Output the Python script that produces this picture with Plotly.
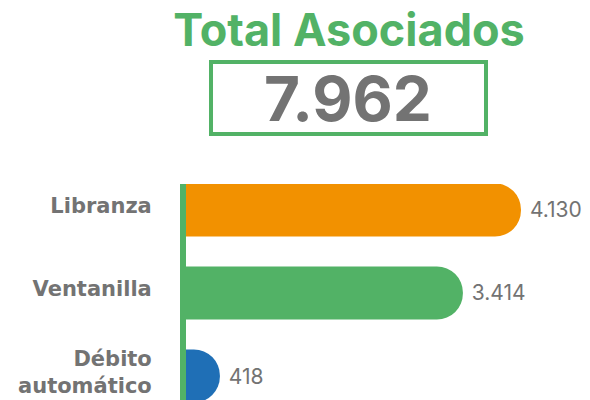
import plotly.graph_objects as go

# data
categories = ["Libranza", "Ventanilla", "Débito<br>automático"]
values = [4130, 3414, 418]
bar_colors = ["#F29100", "#52B266", "#1F6FB6"]
total_label = "7.962"
title_text = "Total Asociados"

GREEN = "#52B266"
GREY = "#737373"
FONT = "Inter"

fig = go.Figure()
fig.add_trace(go.Bar(
    x=values, y=categories, orientation="h",
    marker=dict(color=bar_colors, cornerradius=27, line_width=0),
    texttemplate="\u00a0%{x:,}", textposition="outside",
    textfont=dict(family=FONT, size=21, color=GREY),
    cliponaxis=False, hoverinfo="skip",
))

fig.update_layout(
    width=590, height=400,
    margin=dict(l=186, r=0, t=184, b=0),
    paper_bgcolor="white", plot_bgcolor="white",
    separators=",.",
    showlegend=False,
    bargap=0.36,
    title=dict(text=f"<b>{title_text}</b>", x=0.5915, xanchor="center",
               y=0.925, yanchor="middle", yref="container",
               font=dict(family=FONT, size=45, color=GREEN)),
)

fig.update_xaxes(range=[0, 4981], visible=False)
fig.update_yaxes(
    range=[2.289, -0.313], showline=True, linecolor=GREEN, linewidth=6,
    showgrid=False, zeroline=False, ticks="", ticklabelstandoff=24,
    ticklabelshift=4, automargin=False,
    tickfont=dict(family="DejaVu Sans", size=21, color=GREY, weight="bold"),
)

# box around the total
fig.add_shape(type="rect", xref="paper", yref="paper",
              x0=0.0619, x1=0.7426, y0=1.231, y1=1.565,
              line=dict(color=GREEN, width=4))
fig.add_annotation(xref="paper", yref="paper", x=0.4022, y=1.398,
                   text=f"<b>{total_label}</b>", showarrow=False,
                   xanchor="center", yanchor="middle",
                   font=dict(family=FONT, size=62, color=GREY))

# page body has a default 8px margin; drop it so the figure sits at 0,0
fig.write_html("out.html", config={"displayModeBar": False},
               post_script="document.body.style.margin='0';")
